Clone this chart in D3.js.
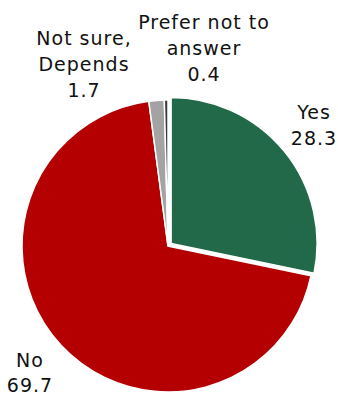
<!DOCTYPE html>
<html lang="en">
<head>
    <meta charset="UTF-8">
    <script src="https://cdnjs.cloudflare.com/ajax/libs/d3/7.8.5/d3.min.js"></script>
    <style>
        body { margin: 0; background: #fff; }
        text { font-family: "DejaVu Sans", sans-serif; font-size: 19px; letter-spacing: 1px; fill: #111; }
    </style>
</head>
<body>
<svg width="338" height="398"></svg>
<script>
    const categories = ['Yes', 'No', 'Not sure, Depends', 'Prefer not to answer'];
    const values = [28.3, 69.7, 1.7, 0.4];
    const labelLines = [['Yes'], ['No'], ['Not sure,', 'Depends'], ['Prefer not to', 'answer']];
    const colors = ['#22694a', '#b40000', '#a3a3a3', '#383838'];

    // label anchor (x of centre, baseline of first line, line step)
    const labelAt = [[314, 119, 26], [30, 367, 25], [84, 45, 26], [204, 29, 26]];

    const cx = 168, cy = 246, r = 146;
    const svg = d3.select('svg');
    const g = svg.append('g').attr('transform', `translate(${cx},${cy})`);

    const pie = d3.pie().sort(null).value(d => d.v);
    const arc = d3.arc().innerRadius(0).outerRadius(r);
    const data = categories.map((c, i) => ({ c, v: values[i], i }));

    g.selectAll('path')
        .data(pie(data)).enter()
        .append('path')
        .attr('d', arc)
        .attr('fill', d => colors[d.data.i])
        .attr('stroke', '#fff')
        .attr('stroke-width', 1.5)
        .attr('stroke-linejoin', 'miter')
        .attr('transform', d => {
            if (d.data.c !== 'Yes') return null;
            const a = (d.startAngle + d.endAngle) / 2;
            return `translate(${4 * Math.sin(a)},${-4 * Math.cos(a)})`;
        });

    const lbl = svg.selectAll('text.lbl')
        .data(data).enter()
        .append('text')
        .attr('class', 'lbl')
        .attr('text-anchor', 'middle');

    lbl.each(function (d) {
        const t = d3.select(this);
        const [x, y, step] = labelAt[d.i];
        const lines = labelLines[d.i].concat([String(d.v)]);
        lines.forEach((s, k) => {
            t.append('tspan').attr('x', x).attr('y', y + k * step).text(s);
        });
    });
</script>
</body>
</html>
